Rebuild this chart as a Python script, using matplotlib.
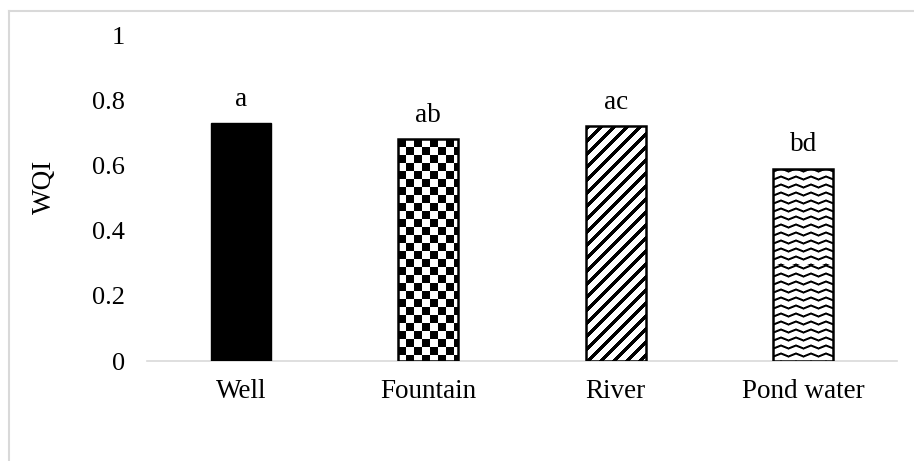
import numpy as np
import matplotlib
matplotlib.use('Agg')
import matplotlib.pyplot as plt
from matplotlib.lines import Line2D

# values
categories = ['Well', 'Fountain', 'River', 'Pond water']
wqi = [0.73, 0.68, 0.72, 0.59]
letters = ['a', 'ab', 'ac', 'bd']
yticks = [0, 0.2, 0.4, 0.6, 0.8, 1]
ytick_labels = ['0', '0.2', '0.4', '0.6', '0.8', '1']

# fill style per bar
fills = ['solid', 'checker', 'stripes', 'waves']

W, H, DPI = 914, 461, 100
GRID = '#d9d9d9'

plt.rcParams['font.family'] = ['Liberation Serif', 'DejaVu Serif']
plt.rcParams['font.size'] = 19.5


def texture(kind, h, w):
    # 1 = white, 0 = black
    r, c = np.mgrid[0:h, 0:w]
    if kind == 'checker':
        return ((r // 8 + c // 8) % 2).astype(float)
    if kind == 'stripes':
        return (((r + c) % 13) >= 5).astype(float)
    # zigzag waves
    off = 3.0 * np.abs((c % 15) / 15.0 * 2 - 1)
    d = (r - off) % 8
    dist = np.minimum(d, 8 - d)
    return np.clip(dist - 0.6, 0, 1)


fig = plt.figure(figsize=(W / DPI, H / DPI), dpi=DPI)
ax = fig.add_axes([147 / W, (H - 361) / H, (897 - 147) / W, (361 - 35) / H])
ax.set_xlim(-0.5, len(categories) - 0.5)
ax.set_ylim(0, 1)

x = np.arange(len(categories))
bw = 0.32
px_per_x = (897 - 147) / len(categories)
px_per_y = 361 - 35

for i, (v, kind) in enumerate(zip(wqi, fills)):
    if kind == 'solid':
        ax.bar(x[i], v, width=bw, color='black', edgecolor='black',
               linewidth=1, zorder=3)
        continue
    bar = ax.bar(x[i], v, width=bw, facecolor='none', edgecolor='black',
                 linewidth=1.8, zorder=3)[0]
    img = texture(kind, int(round(v * px_per_y)), int(round(bw * px_per_x)))
    x0 = bar.get_x()
    im = ax.imshow(img, cmap='gray', vmin=0, vmax=1, aspect='auto',
                   interpolation='nearest',
                   extent=[x0, x0 + bar.get_width(), 0, bar.get_height()],
                   zorder=2)
    im.set_clip_path(bar)

ax.set_xlim(-0.5, len(categories) - 0.5)
ax.set_ylim(0, 1)

for xi, v, lab in zip(x, wqi, letters):
    ax.annotate(lab, (xi, v), xytext=(0, 12.5), textcoords='offset points',
                ha='center', va='baseline')

for s in ['top', 'right', 'left']:
    ax.spines[s].set_visible(False)
ax.spines['bottom'].set_color(GRID)
ax.spines['bottom'].set_linewidth(1.2)
ax.spines['bottom'].set_zorder(1)

ax.set_xticks(x)
ax.set_xticklabels(categories)
ax.set_yticks(yticks)
ax.set_yticklabels(ytick_labels, fontsize=19)
ax.tick_params(axis='both', length=0)
ax.tick_params(axis='x', pad=13)
ax.tick_params(axis='y', pad=16)
ax.set_ylabel('WQI')
ax.yaxis.set_label_coords((57 - 147) / (897 - 147), 0.535)

# outer chart border (only top and left edges visible in the crop)
fig.add_artist(Line2D([9 / W, 1], [1 - 11.5 / H, 1 - 11.5 / H],
                      color=GRID, linewidth=1.5))
fig.add_artist(Line2D([9 / W, 9 / W], [0, 1 - 11.5 / H],
                      color=GRID, linewidth=1.5))

fig.savefig('out.png', dpi=DPI)
